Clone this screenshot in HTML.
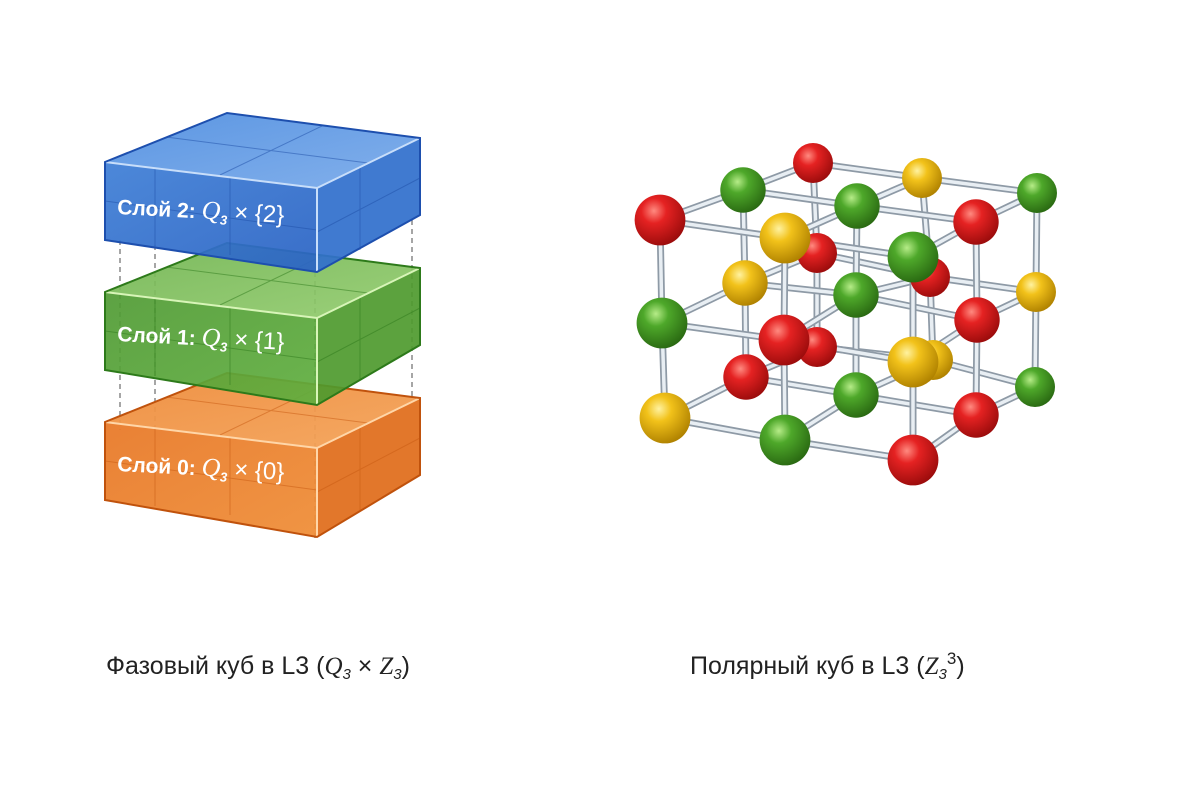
<!DOCTYPE html>
<html><head><meta charset="utf-8"><style>
html,body{margin:0;padding:0;background:#fff;width:1200px;height:800px;overflow:hidden}
svg{display:block}
</style></head><body>
<svg width="1200" height="800" viewBox="0 0 1200 800" xmlns="http://www.w3.org/2000/svg" font-family="Liberation Sans, DejaVu Sans, sans-serif">
<defs>
<linearGradient id="gB" x1="0" y1="0" x2="1" y2="1"><stop offset="0" stop-color="#3f7fd6"/><stop offset="1" stop-color="#2a63c4"/></linearGradient>
<linearGradient id="gBt" x1="0" y1="0" x2="1" y2="1"><stop offset="0" stop-color="#4f8ee0"/><stop offset="1" stop-color="#79aaea"/></linearGradient>
<linearGradient id="gG" x1="0" y1="0" x2="1" y2="1"><stop offset="0" stop-color="#4f9a33"/><stop offset="1" stop-color="#5fae3e"/></linearGradient>
<linearGradient id="gGt" x1="0" y1="0" x2="1" y2="1"><stop offset="0" stop-color="#70b450"/><stop offset="1" stop-color="#93cc6e"/></linearGradient>
<linearGradient id="gO" x1="0" y1="0" x2="1" y2="1"><stop offset="0" stop-color="#e87a2a"/><stop offset="1" stop-color="#ef8f3a"/></linearGradient>
<linearGradient id="gOt" x1="0" y1="0" x2="1" y2="1"><stop offset="0" stop-color="#ee8c3c"/><stop offset="1" stop-color="#f4a45a"/></linearGradient>
<radialGradient id="bR" cx="0.38" cy="0.32" r="0.7"><stop offset="0" stop-color="#ff8a80"/><stop offset="0.35" stop-color="#e52222"/><stop offset="1" stop-color="#9c0c0c"/></radialGradient>
<radialGradient id="bG" cx="0.38" cy="0.32" r="0.7"><stop offset="0" stop-color="#b6ec88"/><stop offset="0.35" stop-color="#4ea82a"/><stop offset="1" stop-color="#2a6a12"/></radialGradient>
<radialGradient id="bY" cx="0.38" cy="0.32" r="0.7"><stop offset="0" stop-color="#fff2a0"/><stop offset="0.35" stop-color="#f2c21a"/><stop offset="1" stop-color="#b08200"/></radialGradient>
</defs>

<g stroke="#888" stroke-width="1.5" stroke-dasharray="5,4" fill="none">
<line x1="120" y1="240" x2="120" y2="430"/><line x1="155" y1="245" x2="155" y2="430"/>
<line x1="315" y1="272" x2="315" y2="540"/><line x1="412" y1="220" x2="412" y2="400"/>
</g>

<g id="boxes">
<g transform="translate(0,260)">
<polygon points="105,162 227,113 420,138 317,188" fill="url(#gOt)" opacity="0.95"/>
<polygon points="317,188 420,138 420,215 317,277" fill="#e07020" opacity="0.95"/>
<polygon points="105,162 317,188 317,277 105,240" fill="url(#gO)" opacity="0.95"/>
<g stroke="#c85a12" stroke-width="1" opacity="0.5"><line x1="166" y1="137" x2="368" y2="163"/><line x1="220" y1="175" x2="322" y2="126"/><line x1="155" y1="168" x2="155" y2="246"/><line x1="230" y1="178" x2="230" y2="255"/><line x1="360" y1="167" x2="360" y2="250"/><line x1="317" y1="232" x2="420" y2="178"/><line x1="105" y1="201" x2="317" y2="230"/></g>
<polyline points="105,162 317,188 420,138" fill="none" stroke="#ffd6a8" stroke-width="2"/>
<line x1="317" y1="188" x2="317" y2="277" stroke="#ffd6a8" stroke-width="2"/>
<polygon points="105,162 227,113 420,138 420,215 317,277 105,240" fill="none" stroke="#c0520c" stroke-width="2"/>
</g>
<g transform="translate(0,130)">
<polygon points="105,162 227,113 420,138 317,188" fill="url(#gGt)" opacity="0.92"/>
<polygon points="317,188 420,138 420,215 317,275" fill="#4e9a2e" opacity="0.92"/>
<polygon points="105,162 317,188 317,275 105,240" fill="url(#gG)" opacity="0.92"/>
<g stroke="#2f7a1c" stroke-width="1" opacity="0.5"><line x1="166" y1="137" x2="368" y2="163"/><line x1="220" y1="175" x2="322" y2="126"/><line x1="155" y1="168" x2="155" y2="246"/><line x1="230" y1="178" x2="230" y2="255"/><line x1="360" y1="167" x2="360" y2="250"/><line x1="317" y1="232" x2="420" y2="178"/><line x1="105" y1="201" x2="317" y2="230"/></g>
<polyline points="105,162 317,188 420,138" fill="none" stroke="#d8f5b8" stroke-width="2"/>
<line x1="317" y1="188" x2="317" y2="275" stroke="#d8f5b8" stroke-width="2"/>
<polygon points="105,162 227,113 420,138 420,215 317,275 105,240" fill="none" stroke="#2d7a1a" stroke-width="2"/>
</g>
<g>
<polygon points="105,162 227,113 420,138 317,188" fill="url(#gBt)" opacity="0.93"/>
<polygon points="317,188 420,138 420,215 317,272" fill="#3270cc" opacity="0.93"/>
<polygon points="105,162 317,188 317,272 105,240" fill="url(#gB)" opacity="0.93"/>
<g stroke="#1f4fa8" stroke-width="1" opacity="0.5"><line x1="166" y1="137" x2="368" y2="163"/><line x1="220" y1="175" x2="322" y2="126"/><line x1="155" y1="168" x2="155" y2="246"/><line x1="230" y1="178" x2="230" y2="255"/><line x1="360" y1="167" x2="360" y2="250"/><line x1="317" y1="232" x2="420" y2="178"/><line x1="105" y1="201" x2="317" y2="230"/></g>
<polyline points="105,162 317,188 420,138" fill="none" stroke="#c8defa" stroke-width="2"/>
<line x1="317" y1="188" x2="317" y2="272" stroke="#c8defa" stroke-width="2"/>
<polygon points="105,162 227,113 420,138 420,215 317,272 105,240" fill="none" stroke="#1d4fae" stroke-width="2"/>
</g>
</g>

<g fill="#fff" font-size="21" font-weight="bold">
<text x="117" y="214" transform="rotate(3 117 214)">Слой 2: <tspan font-family="Liberation Serif, serif" font-style="italic" font-weight="normal" font-size="26">Q</tspan><tspan font-size="13" font-style="italic" dy="5">3</tspan><tspan dy="-5" font-weight="normal" font-size="24"> × {2}</tspan></text>
<text x="117" y="341" transform="rotate(3 117 341)">Слой 1: <tspan font-family="Liberation Serif, serif" font-style="italic" font-weight="normal" font-size="26">Q</tspan><tspan font-size="13" font-style="italic" dy="5">3</tspan><tspan dy="-5" font-weight="normal" font-size="24"> × {1}</tspan></text>
<text x="117" y="471" transform="rotate(3 117 471)">Слой 0: <tspan font-family="Liberation Serif, serif" font-style="italic" font-weight="normal" font-size="26">Q</tspan><tspan font-size="13" font-style="italic" dy="5">3</tspan><tspan dy="-5" font-weight="normal" font-size="24"> × {0}</tspan></text>
</g>

<g id="lines"></g>
<g id="balls"></g>

<g fill="#222" font-size="25">
<text x="106" y="674">Фазовый куб в L3 (<tspan font-family="Liberation Serif, serif" font-style="italic">Q</tspan><tspan font-size="15" font-style="italic" dy="5">3</tspan><tspan dy="-5"> × </tspan><tspan font-family="Liberation Serif, serif" font-style="italic">Z</tspan><tspan font-size="15" font-style="italic" dy="5">3</tspan><tspan dy="-5">)</tspan></text>
<text x="690" y="674">Полярный куб в L3 (<tspan font-family="Liberation Serif, serif" font-style="italic">Z</tspan><tspan font-size="15" font-style="italic" dy="5">3</tspan><tspan font-size="17" dy="-15">3</tspan><tspan dy="10">)</tspan></text>
</g>
</svg>
<script>
(function(){
var P={
"0,0,0":[660,220,"R"],"1,0,0":[785,238,"Y"],"2,0,0":[913,257,"G"],
"0,1,0":[743,190,"G"],"1,1,0":[857,206,"G"],"2,1,0":[976,222,"R"],
"0,2,0":[813,163,"R"],"1,2,0":[922,178,"Y"],"2,2,0":[1037,193,"G"],
"0,0,1":[662,323,"G"],"1,0,1":[784,340,"R"],"2,0,1":[913,362,"Y"],
"0,1,1":[745,283,"Y"],"1,1,1":[856,295,"G"],"2,1,1":[977,320,"R"],
"0,2,1":[817,253,"R"],"1,2,1":[930,277,"R"],"2,2,1":[1036,292,"Y"],
"0,0,2":[665,418,"Y"],"1,0,2":[785,440,"G"],"2,0,2":[913,460,"R"],
"0,1,2":[746,377,"R"],"1,1,2":[856,395,"G"],"2,1,2":[976,415,"R"],
"0,2,2":[817,347,"R"],"1,2,2":[933,360,"Y"],"2,2,2":[1035,387,"G"]};
var ns='http://www.w3.org/2000/svg',gl=document.getElementById('lines'),gb=document.getElementById('balls');
var L=[],B=[];
for(var j=2;j>=0;j--)for(var k=0;k<3;k++)for(var i=0;i<3;i++){
 var a=P[i+","+j+","+k];
 [[i+1,j,k],[i,j-1,k],[i,j,k+1]].forEach(function(n){var b=P[n.join(",")];if(b)L.push([a,b]);});
 B.push({a:a,r:20+(2-j)*2.7,j:j});
}
L.forEach(function(p){
 var l=document.createElementNS(ns,'line');
 l.setAttribute('x1',p[0][0]);l.setAttribute('y1',p[0][1]);l.setAttribute('x2',p[1][0]);l.setAttribute('y2',p[1][1]);
 l.setAttribute('stroke','#8e9aa6');l.setAttribute('stroke-width','7');l.setAttribute('stroke-linecap','round');gl.appendChild(l);
 var l2=l.cloneNode();l2.setAttribute('stroke','#e8eef3');l2.setAttribute('stroke-width','3.5');gl.appendChild(l2);
});
B.forEach(function(it){
 var c=document.createElementNS(ns,'circle');
 c.setAttribute('cx',it.a[0]);c.setAttribute('cy',it.a[1]);c.setAttribute('r',it.r);
 c.setAttribute('fill','url(#b'+it.a[2]+')');gb.appendChild(c);
});
})();
</script>
</body></html>
